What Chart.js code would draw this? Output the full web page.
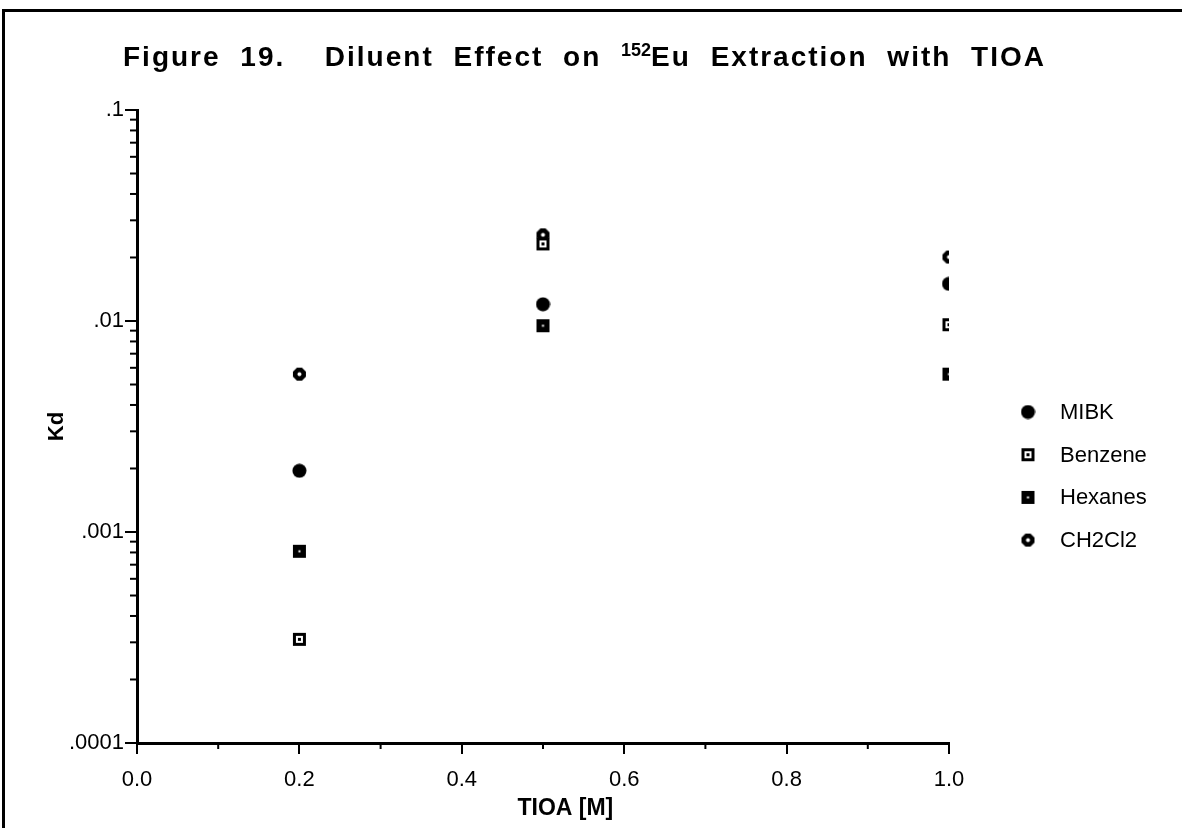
<!DOCTYPE html>
<html>

<head>
    <meta charset="utf-8">
    <script src="https://cdn.jsdelivr.net/npm/chart.js@4.4.0/dist/chart.umd.min.js"></script>
    <style>
        body { margin: 0; background: #fff; }
        #wrap { position: relative; width: 1182px; height: 828px; overflow: hidden; }
        #ramka { position: absolute; left: 2px; top: 9px; right: -5px; bottom: -5px; border-top: 3px solid #000; border-left: 3px solid #000; }
        #tytul { position: absolute; left: 123px; top: 41px; line-height: 28px; font: bold 28px "Liberation Sans", Arial, sans-serif; white-space: pre; letter-spacing: 2px; word-spacing: 10px; }
        #tytul sup { font-size: 18px; line-height: 0; vertical-align: 10px; letter-spacing: 0; }
        canvas { position: absolute; left: 0; top: 0; }
    </style>
</head>

<body>
    <div id="wrap">
        <div id="ramka"></div>
        <canvas id="wykres" width="1182" height="828"></canvas>
        <div id="tytul">Figure 19.  Diluent Effect on <sup>152</sup>Eu Extraction with TIOA</div>
    </div>
    <script>
        const stezenia = [0.2, 0.5, 1.0];
        const mibk = [0.00195, 0.0120, 0.0150];
        const benzen = [0.00031, 0.0232, 0.0096];
        const heksany = [0.00081, 0.0095, 0.0056];
        const ch2cl2 = [0.0056, 0.0256, 0.0201];
        const nazwy = ["MIBK", "Benzene", "Hexanes", "CH2Cl2"];

        const xTicks = [0, 0.2, 0.4, 0.6, 0.8, 1.0];
        const xEtykiety = ["0.0", "0.2", "0.4", "0.6", "0.8", "1.0"];
        const xMniejsze = [0.1, 0.3, 0.5, 0.7, 0.9];
        const yTicks = [0.0001, 0.001, 0.01, 0.1];
        const yEtykiety = [".0001", ".001", ".01", ".1"];

        const czcionka = "'Liberation Sans', Arial, sans-serif";

        // male obrazki znacznikow
        function znacznik(rysuj) {
            const c = document.createElement("canvas");
            c.width = 15;
            c.height = 15;
            rysuj(c.getContext("2d"));
            return c;
        }
        const kolo = znacznik(g => {
            g.fillStyle = "#000";
            g.beginPath(); g.arc(7.5, 7.5, 7, 0, 2 * Math.PI); g.fill();
        });
        const kwadratOtwarty = znacznik(g => {
            g.fillStyle = "#000"; g.fillRect(1, 1, 13, 13);
            g.fillStyle = "#fff"; g.fillRect(4, 4, 7, 7);
            g.fillStyle = "#000"; g.fillRect(6, 6, 3, 3);
        });
        const kwadratPelny = znacznik(g => {
            g.fillStyle = "#000"; g.fillRect(1, 1, 13, 13);
            g.fillStyle = "#fff"; g.fillRect(6.5, 6.5, 2, 2);
        });
        const romb = znacznik(g => {
            // zaokraglony romb z bialym srodkiem
            g.fillStyle = "#000";
            g.beginPath();
            g.moveTo(5, 1); g.lineTo(10, 1); g.lineTo(14, 5); g.lineTo(14, 10);
            g.lineTo(10, 14); g.lineTo(5, 14); g.lineTo(1, 10); g.lineTo(1, 5);
            g.closePath(); g.fill();
            g.fillStyle = "#fff";
            g.beginPath(); g.arc(7.5, 7.5, 2, 0, 2 * Math.PI); g.fill();
        });

        function punkty(seria) {
            return stezenia.map((x, i) => ({ x: x, y: seria[i] }));
        }

        const dane = {
            datasets: [
                { label: nazwy[0], data: punkty(mibk), pointStyle: kolo },
                { label: nazwy[1], data: punkty(benzen), pointStyle: kwadratOtwarty },
                { label: nazwy[2], data: punkty(heksany), pointStyle: kwadratPelny },
                { label: nazwy[3], data: punkty(ch2cl2), pointStyle: romb }
            ]
        };

        const dodatki = {
            id: "dodatki",
            afterDraw(chart) {
                const g = chart.ctx;
                const sx = chart.scales.x;
                const sy = chart.scales.y;
                g.save();
                g.strokeStyle = "#000";
                g.lineWidth = 2;
                xMniejsze.forEach(v => {
                    const p = sx.getPixelForValue(v);
                    g.beginPath(); g.moveTo(p, sx.top); g.lineTo(p, sx.top + 6); g.stroke();
                });
                yTicks.slice(0, 3).forEach(d => {
                    for (let m = 2; m < 10; m++) {
                        const p = sy.getPixelForValue(m * d);
                        g.beginPath(); g.moveTo(sy.right - 7, p); g.lineTo(sy.right, p); g.stroke();
                    }
                });
                // legenda
                g.font = "22px " + czcionka;
                g.textBaseline = "middle";
                g.fillStyle = "#000";
                chart.data.datasets.forEach((ds, i) => {
                    const y = 412 + i * 42.7;
                    g.drawImage(ds.pointStyle, 1028 - 7.5, y - 7.5);
                    g.fillText(ds.label, 1060, y + 1);
                });
                g.restore();
            }
        };

        const ctx = document.getElementById("wykres").getContext("2d");
        const wykres = new Chart(ctx, {
            type: "scatter",
            data: dane,
            plugins: [dodatki],
            options: {
                responsive: false,
                animation: false,
                devicePixelRatio: 1,
                layout: { padding: { top: 110, right: 233, left: 0, bottom: 0 } },
                plugins: {
                    legend: { display: false },
                    tooltip: { enabled: false }
                },
                scales: {
                    x: {
                        type: "linear",
                        min: 0,
                        max: 1,
                        afterBuildTicks: s => { s.ticks = xTicks.map(v => ({ value: v })); },
                        afterFit: s => { s.height = 85; },
                        ticks: {
                            callback: (v, i) => xEtykiety[i],
                            color: "#000",
                            font: { size: 22, family: czcionka },
                            padding: 13,
                            maxRotation: 0,
                            autoSkip: false
                        },
                        grid: { drawOnChartArea: false, drawTicks: true, tickLength: 11, color: "#000", lineWidth: 2 },
                        border: { display: true, color: "#000", width: 3 },
                        title: {
                            display: true,
                            text: "       TIOA [M]",
                            color: "#000",
                            font: { size: 23, weight: "bold", family: czcionka },
                            padding: { top: 0, bottom: 6 }
                        }
                    },
                    y: {
                        type: "logarithmic",
                        min: 0.0001,
                        max: 0.1,
                        afterBuildTicks: s => { s.ticks = yTicks.map(v => ({ value: v })); },
                        afterFit: s => { s.width = 137; },
                        ticks: {
                            callback: (v, i) => yEtykiety[i],
                            color: "#000",
                            font: { size: 22, family: czcionka },
                            padding: 1,
                            autoSkip: false
                        },
                        grid: { drawOnChartArea: false, drawTicks: true, tickLength: 12, color: "#000", lineWidth: 2 },
                        border: { display: true, color: "#000", width: 3 },
                        title: {
                            display: true,
                            text: "Kd",
                            color: "#000",
                            font: { size: 22, weight: "bold", family: czcionka },
                            padding: { top: 44, bottom: 0 }
                        }
                    }
                }
            }
        });
    </script>
</body>

</html>
